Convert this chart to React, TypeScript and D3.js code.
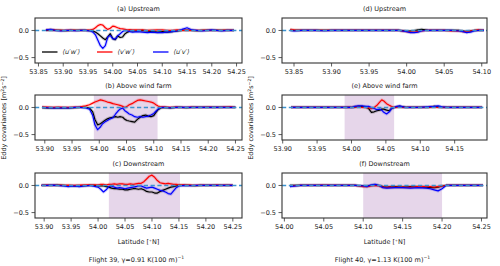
import React from 'react';
import * as d3 from 'd3';

// ---------------- data ----------------
const latA = [53.865, 53.875, 53.885, 53.895, 53.905, 53.915, 53.925, 53.935, 53.945, 53.955, 53.96, 53.965, 53.97, 53.975, 53.98, 53.985, 53.99, 53.995, 54.0, 54.005, 54.01, 54.015, 54.02, 54.025, 54.03, 54.035, 54.04, 54.05, 54.06, 54.07, 54.08, 54.09, 54.1, 54.11, 54.12, 54.13, 54.14, 54.15, 54.16, 54.17, 54.18, 54.19, 54.2, 54.21, 54.22, 54.23, 54.245];
const uwA = [0, 0.01, 0, 0, -0.005, 0, 0, 0, 0, -0.005, -0.01, -0.03, -0.06, -0.1, -0.14, -0.17, -0.12, -0.06, -0.15, -0.17, -0.1, -0.13, -0.12, -0.06, -0.03, -0.01, -0.01, -0.01, 0, -0.01, -0.02, -0.03, -0.02, -0.03, -0.02, -0.01, 0, 0, 0, -0.005, 0, 0, 0, 0, 0, 0, 0];
const vwA = [0.01, 0.01, 0.005, 0, 0, 0.005, 0, 0, 0, 0.01, 0.02, 0.05, 0.09, 0.11, 0.1, 0.05, 0.02, 0.04, 0.08, 0.07, 0.05, 0.035, 0.03, 0.02, 0.01, 0.015, 0.01, 0.01, 0.01, 0, 0.005, 0.01, 0.01, 0, 0, 0.01, 0, 0.005, 0, 0, 0, 0.005, 0, 0, 0, 0.005, 0];
const uvA = [0.01, 0.02, 0, -0.01, 0, 0, -0.005, 0, 0, -0.01, -0.03, -0.08, -0.18, -0.28, -0.33, -0.28, -0.12, -0.09, -0.15, -0.16, -0.1, -0.06, -0.02, 0, -0.01, -0.02, -0.03, -0.02, -0.03, -0.04, -0.03, -0.04, -0.04, -0.03, -0.02, -0.01, 0.02, 0.05, 0.01, 0, -0.01, 0, 0.01, 0, -0.01, 0, 0];

const latB = [53.895, 53.905, 53.915, 53.925, 53.935, 53.945, 53.955, 53.965, 53.975, 53.982, 53.988, 53.992, 53.997, 54.002, 54.006, 54.01, 54.015, 54.02, 54.025, 54.03, 54.034, 54.038, 54.043, 54.047, 54.051, 54.055, 54.06, 54.065, 54.07, 54.075, 54.08, 54.085, 54.09, 54.095, 54.1, 54.104, 54.108, 54.113, 54.12, 54.13, 54.14, 54.15, 54.16, 54.17, 54.18, 54.19, 54.2, 54.21, 54.22, 54.23, 54.24, 54.25];
const uwB = [-0.005, -0.01, -0.01, -0.005, -0.01, -0.01, -0.005, 0, 0, -0.01, -0.08, -0.22, -0.32, -0.3, -0.27, -0.24, -0.21, -0.19, -0.18, -0.17, -0.18, -0.17, -0.18, -0.22, -0.24, -0.25, -0.26, -0.27, -0.22, -0.18, -0.15, -0.14, -0.16, -0.17, -0.15, -0.09, -0.04, -0.01, 0, -0.01, 0, 0, -0.005, 0, 0, 0, 0, 0, 0, 0, 0, 0];
const vwB = [0.01, 0.005, 0, 0.005, 0, 0, 0.005, 0.01, 0.03, 0.05, 0.08, 0.1, 0.12, 0.14, 0.13, 0.12, 0.1, 0.09, 0.07, 0.06, 0.05, 0.04, 0.02, 0, 0.02, 0.05, 0.07, 0.1, 0.13, 0.14, 0.13, 0.12, 0.11, 0.1, 0.08, 0.05, 0.025, 0.01, 0.01, 0, 0.005, 0, 0, 0.005, 0, 0, 0.005, 0, 0, 0.005, 0.01, 0];
const uvB = [0, -0.005, -0.01, -0.01, -0.005, -0.01, 0, 0, -0.01, -0.03, -0.15, -0.32, -0.41, -0.36, -0.3, -0.27, -0.24, -0.21, -0.19, -0.12, -0.07, -0.03, -0.01, -0.06, -0.09, -0.12, -0.14, -0.17, -0.18, -0.17, -0.18, -0.17, -0.16, -0.14, -0.11, -0.07, -0.03, 0, 0, -0.005, 0, 0, 0, 0, 0, 0, 0, 0, 0, 0, 0, 0];

const latC = [53.895, 53.905, 53.915, 53.925, 53.935, 53.945, 53.955, 53.965, 53.975, 53.985, 53.995, 54.0, 54.005, 54.01, 54.015, 54.02, 54.025, 54.03, 54.035, 54.04, 54.045, 54.05, 54.055, 54.06, 54.065, 54.07, 54.075, 54.08, 54.085, 54.09, 54.095, 54.1, 54.105, 54.11, 54.115, 54.12, 54.125, 54.13, 54.135, 54.14, 54.145, 54.15, 54.16, 54.17, 54.18, 54.19, 54.2, 54.21, 54.22, 54.23, 54.24, 54.25];
const uwC = [0, 0, 0, 0.005, 0, -0.005, -0.01, -0.01, -0.005, 0, 0, -0.01, -0.01, -0.01, -0.02, -0.03, -0.05, -0.06, -0.06, -0.07, -0.07, -0.08, -0.08, -0.07, -0.06, -0.06, -0.07, -0.06, -0.08, -0.11, -0.12, -0.12, -0.14, -0.14, -0.11, -0.09, -0.07, -0.05, -0.03, -0.02, -0.01, 0, 0, 0, -0.005, 0, 0, 0, 0, 0, 0, 0];
const vwC = [0, 0.005, 0, 0.005, 0, 0.005, 0, 0.005, 0.01, 0.01, 0.01, 0.01, 0.02, 0.02, 0.01, 0.02, 0.02, 0.03, 0.02, 0.03, 0.03, 0.02, 0.02, 0.03, 0.02, 0.03, 0.04, 0.04, 0.07, 0.12, 0.17, 0.19, 0.15, 0.09, 0.05, 0.04, 0.03, 0.04, 0.03, 0.02, 0.02, 0.01, 0.01, 0.005, 0, 0.005, 0, 0, 0.005, 0, 0.005, 0];
const uvC = [0, 0, 0.005, 0, -0.01, -0.02, -0.01, -0.02, -0.01, 0, -0.02, -0.03, -0.07, -0.12, -0.08, -0.02, -0.01, -0.03, -0.05, -0.04, -0.05, -0.06, -0.05, -0.04, -0.03, -0.02, -0.01, -0.01, -0.03, -0.05, -0.04, -0.03, -0.05, -0.07, -0.09, -0.1, -0.12, -0.15, -0.16, -0.1, -0.04, -0.01, 0, -0.005, 0, 0, 0, 0, 0, 0, 0, 0];

const latD = [53.845, 53.85, 53.86, 53.87, 53.88, 53.89, 53.9, 53.91, 53.92, 53.93, 53.94, 53.95, 53.96, 53.97, 53.98, 53.99, 54.0, 54.005, 54.01, 54.015, 54.02, 54.025, 54.03, 54.04, 54.05, 54.06, 54.07, 54.075, 54.08, 54.085, 54.09, 54.095, 54.103];
const uwD = [0.01, 0, 0, 0, 0, 0, 0, 0, 0, 0, 0, 0, 0, 0, 0, 0, -0.01, -0.01, 0, 0.01, 0.02, 0.01, 0, 0, 0, 0, 0, -0.01, -0.02, -0.01, 0, 0, 0];
const vwD = [0.02, 0.01, 0, 0, 0, 0, 0, 0, 0, 0, 0, 0, 0, 0, 0, 0, -0.02, -0.03, -0.03, -0.02, -0.01, 0, 0, 0, 0, -0.01, -0.01, -0.02, -0.02, -0.01, 0, 0.01, 0];
const uvD = [0, -0.01, 0, 0, 0, -0.005, 0, 0, 0, 0, 0, 0, 0, 0, 0, 0, -0.02, -0.04, -0.04, -0.03, -0.01, 0, 0, 0, 0, 0, -0.01, -0.02, -0.04, -0.03, -0.01, 0, 0];

const latE = [53.912, 53.92, 53.93, 53.94, 53.95, 53.96, 53.97, 53.98, 53.99, 54.0, 54.005, 54.01, 54.015, 54.02, 54.025, 54.029, 54.033, 54.037, 54.041, 54.044, 54.047, 54.051, 54.055, 54.058, 54.062, 54.066, 54.07, 54.075, 54.08, 54.09, 54.1, 54.11, 54.12, 54.126, 54.132, 54.14, 54.15, 54.16, 54.17, 54.18, 54.19];
const uwE = [0, 0, 0, 0, 0, 0, 0, 0, 0, 0, 0.01, 0.02, 0.02, 0.01, -0.02, -0.09, -0.08, -0.06, -0.05, -0.03, -0.03, -0.05, -0.06, -0.02, 0, 0.01, 0.02, 0.01, 0, 0, 0, 0, 0.02, 0.01, 0, 0, 0, 0, 0, 0, 0];
const vwE = [0, 0, 0, 0, 0, 0, 0, 0, 0, 0, 0.01, 0.01, 0, 0, -0.01, -0.02, 0, 0.04, 0.1, 0.14, 0.12, 0.07, 0.04, 0.02, 0, 0, 0.01, 0, 0, 0, 0, 0, 0.01, 0, 0, 0, 0, 0, 0, 0, 0];
const uvE = [0, 0, 0, 0, 0, 0, 0, 0, 0, 0, 0.02, 0.03, 0.03, 0.02, 0.02, 0, -0.02, -0.04, -0.03, -0.05, -0.09, -0.12, -0.08, -0.02, 0, 0.02, 0.03, 0.01, 0, 0, 0, 0.01, 0.02, 0.03, 0.01, 0, 0, 0, 0, 0, 0];

const latF = [54.007, 54.02, 54.03, 54.04, 54.05, 54.06, 54.07, 54.08, 54.09, 54.1, 54.105, 54.11, 54.115, 54.12, 54.125, 54.13, 54.14, 54.15, 54.16, 54.17, 54.18, 54.185, 54.19, 54.195, 54.2, 54.205, 54.21, 54.22, 54.23, 54.24, 54.252];
const uwF = [0, 0, 0, 0, 0, 0, 0, 0, 0, -0.01, -0.01, 0, 0.01, 0, -0.02, -0.03, -0.02, -0.03, -0.02, -0.02, -0.03, -0.04, -0.04, -0.03, -0.01, 0, 0, 0, 0, 0, 0];
const vwF = [-0.01, 0, 0, 0, 0.005, 0, 0, 0, 0, -0.02, -0.02, -0.01, 0, -0.01, -0.03, -0.03, -0.03, -0.03, -0.03, -0.02, -0.02, -0.02, -0.03, -0.02, -0.01, 0, 0, 0, 0, 0, 0];
const uvF = [-0.02, 0, 0, 0, 0, 0, 0, 0, 0, -0.01, -0.02, 0.01, 0.02, 0, -0.04, -0.05, -0.04, -0.04, -0.05, -0.04, -0.05, -0.06, -0.08, -0.1, -0.06, 0, 0, 0, 0, 0, 0];

const titles = ['(a) Upstream', '(b) Above wind farm', '(c) Downstream', '(d) Upstream', '(e) Above wind farm', '(f) Downstream'];
const xDomains: [number, number][] = [
  [53.843, 54.261], [53.882, 54.262], [53.883, 54.267],
  [53.834, 54.107], [53.899, 54.197], [53.997, 54.257],
];
const shades: ([number, number] | null)[] = [null, [53.99, 54.107], [54.02, 54.152], null, [53.99, 54.062], [54.1, 54.2]];
const yTicks = [0, -0.5];
const yTickLabels = ['0.0', '−0.5'];
const seriesNames = ['⟨u′w′⟩', '⟨v′w′⟩', '⟨u′v′⟩'];
const flightLabels = ['Flight 39, γ=0.91 K(100 m)', 'Flight 40, γ=1.13 K(100 m)'];

// ---------------- layout ----------------
const W = 500, H = 266;
const FONT = 'DejaVu Sans, sans-serif';
const FS = 6.5;
const Y_DOMAIN: [number, number] = [-0.6, 0.23];
const colLeft = [[35, 242], [282, 487]];
const rowTop = [[18, 63], [95, 140], [173, 218]];
const COLORS = ['#000000', '#ff0000', '#0000ff'];
const FRAME = '#333333';

const lats = [latA, latB, latC, latD, latE, latF];
const data = [
  [uwA, vwA, uvA], [uwB, vwB, uvB], [uwC, vwC, uvC],
  [uwD, vwD, uvD], [uwE, vwE, uvE], [uwF, vwF, uvF],
];

function Panel({ idx }: { idx: number }) {
  const col = Math.floor(idx / 3), row = idx % 3;
  const [left, right] = colLeft[col];
  const [top, bottom] = rowTop[row];
  const xd = xDomains[idx];
  const x = d3.scaleLinear().domain(xd).range([left, right]);
  const y = d3.scaleLinear().domain(Y_DOMAIN).range([bottom, top]);
  const lat = lats[idx];
  const mk = (vals: number[]) =>
    d3.line<number>().x((_, i) => x(lat[i])).y((d) => y(d))(vals) || '';
  const k0 = Math.ceil(xd[0] / 0.05 - 1e-6), k1 = Math.floor(xd[1] / 0.05 + 1e-6);
  const xt = d3.range(k0, k1 + 1).map((k) => +(k * 0.05).toFixed(2));
  const clip = `clip${idx}`;
  const sh = shades[idx];
  return (
    <g>
      <defs>
        <clipPath id={clip}>
          <rect x={left} y={top} width={right - left} height={bottom - top} />
        </clipPath>
      </defs>
      <text x={(left + right) / 2} y={top - 7.5} textAnchor="middle" fontSize={FS} fontFamily={FONT} fill="#222">
        {titles[idx]}
      </text>
      {sh && (
        <rect x={x(sh[0])} y={top} width={x(sh[1]) - x(sh[0])} height={bottom - top} fill="#e6d6ea" />
      )}
      <g clipPath={`url(#${clip})`}>
        {data[idx].map((vals, s) => (
          <path key={'b' + s} d={mk(vals)} fill="none" stroke={COLORS[s]} strokeOpacity={0.18} strokeWidth={3.2} strokeLinejoin="round" />
        ))}
        {data[idx].map((vals, s) => (
          <path key={'l' + s} d={mk(vals)} fill="none" stroke={COLORS[s]} strokeWidth={1.2} strokeLinejoin="round" />
        ))}
        <line x1={left} x2={right} y1={y(0)} y2={y(0)} stroke="#3b92d0" strokeWidth={1.4} strokeDasharray="4.2,2.6" />
      </g>
      <rect x={left} y={top} width={right - left} height={bottom - top} fill="none" stroke={FRAME} strokeWidth={1.1} />
      {xt.map((t) => (
        <g key={t}>
          <line x1={x(t)} x2={x(t)} y1={bottom} y2={bottom + 3.5} stroke={FRAME} strokeWidth={0.8} />
          <text x={x(t)} y={bottom + 11} textAnchor="middle" fontSize={FS} fontFamily={FONT} fill="#222">
            {t.toFixed(2)}
          </text>
        </g>
      ))}
      {yTicks.map((t, i) => (
        <g key={t}>
          <line x1={left - 3.5} x2={left} y1={y(t)} y2={y(t)} stroke={FRAME} strokeWidth={0.8} />
          <text x={left - 6} y={y(t) + 2.4} textAnchor="end" fontSize={FS} fontFamily={FONT} fill="#222">
            {yTickLabels[i]}
          </text>
        </g>
      ))}
      {idx === 0 && (
        <g>
          {seriesNames.map((n, s) => {
            const lx = [42, 97, 153][s];
            const ly = 52;
            return (
              <g key={n}>
                <line x1={lx} x2={lx + 15.5} y1={ly} y2={ly} stroke={COLORS[s]} strokeWidth={1.3} />
                <text x={lx + 20.5} y={ly + 2.3} fontSize={FS} fontFamily={FONT} fill="#222" fontStyle="italic">
                  {n}
                </text>
              </g>
            );
          })}
        </g>
      )}
    </g>
  );
}

export default function App() {
  return (
    <svg width={W} height={H} viewBox={`0 0 ${W} ${H}`} style={{ position: 'absolute', left: 0, top: 0, background: '#fff' }}>
      <rect width={W} height={H} fill="#fff" />
      {[0, 1, 2, 3, 4, 5].map((i) => (
        <Panel key={i} idx={i} />
      ))}
      {[0, 1].map((c) => {
        const [l, r] = colLeft[c];
        const cx = (l + r) / 2;
        return (
          <g key={c}>
            <text transform={`translate(${l - 29},118) rotate(-90)`} textAnchor="middle" fontSize={FS} fontFamily={FONT} fill="#222">
              Eddy covariances [m<tspan dy={-2.5} fontSize={FS * 0.7}>2</tspan>
              <tspan dy={2.5}>s</tspan>
              <tspan dy={-2.5} fontSize={FS * 0.7}>−2</tspan>
              <tspan dy={2.5}>]</tspan>
            </text>
            <text x={cx} y={244} textAnchor="middle" fontSize={FS} fontFamily={FONT} fill="#222">
              Latitude [<tspan dy={-2} fontSize={FS * 0.7}>∘</tspan><tspan dy={2}>N]</tspan>
            </text>
            <text x={cx - 2} y={261.5} textAnchor="middle" fontSize={FS} fontFamily={FONT} fill="#222">
              {flightLabels[c]}
              <tspan dy={-2.5} fontSize={FS * 0.7}>−1</tspan>
            </text>
          </g>
        );
      })}
    </svg>
  );
}
